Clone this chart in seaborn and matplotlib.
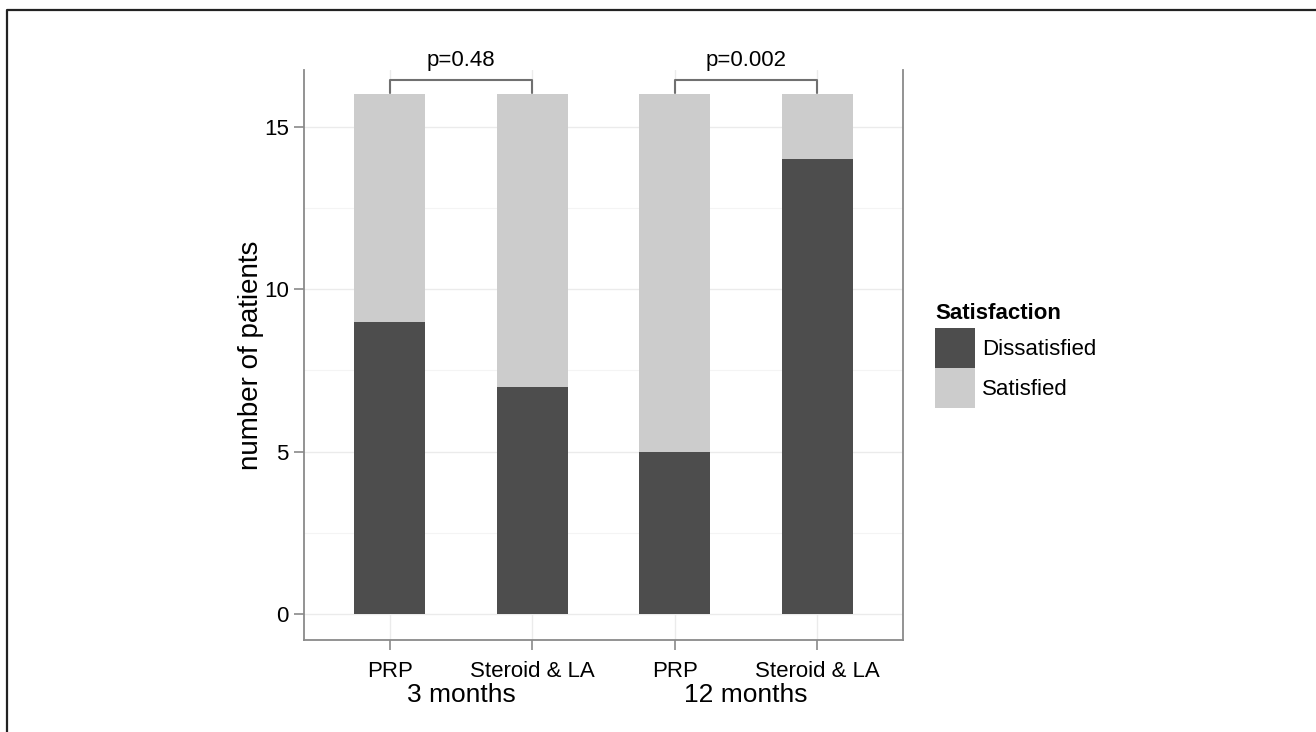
import matplotlib
matplotlib.use("Agg")
import matplotlib.pyplot as plt
import matplotlib.transforms as mtransforms
from matplotlib.patches import Patch
from matplotlib.lines import Line2D
import seaborn as sns
import pandas as pd

# ---- data ----
treatments = ["PRP", "Steroid & LA", "PRP", "Steroid & LA"]
timepoints = ["3 months", "3 months", "12 months", "12 months"]
dissatisfied = [9, 7, 5, 14]
satisfied = [7, 9, 11, 2]
p_values = ["p=0.48", "p=0.002"]
group_labels = ["3 months", "12 months"]
legend_labels = ["Dissatisfied", "Satisfied"]

sns.set_theme(style="white")
plt.rcParams["font.family"] = ["Liberation Sans", "DejaVu Sans"]
plt.rcParams["text.color"] = "black"
plt.rcParams["axes.labelcolor"] = "black"

dark = "#4d4d4d"
light = "#cccccc"
spine_c = "#8a8a8a"

keys = [f"{t}|{g}" for t, g in zip(treatments, timepoints)]
df = pd.DataFrame({
    "key": keys,
    "total": [d + s for d, s in zip(dissatisfied, satisfied)],
    "dissatisfied": dissatisfied,
})

fig = plt.figure(figsize=(13.16, 7.32), dpi=100)
ax = fig.add_axes([304 / 1316, 1 - 640 / 732, (903 - 304) / 1316, (640 - 70) / 732])

sns.barplot(data=df, x="key", y="total", color=light, width=0.5, ax=ax,
            saturation=1, order=keys, zorder=2, linewidth=0)
sns.barplot(data=df, x="key", y="dissatisfied", color=dark, width=0.5, ax=ax,
            saturation=1, order=keys, zorder=3, linewidth=0)

ax.set_xlim(-0.6, 3.6)
ax.set_ylim(-0.8, 16.75)
ax.set_yticks([0, 5, 10, 15])
ax.set_yticks([2.5, 7.5, 12.5], minor=True)
ax.set_xticks(range(4))
ax.set_xticklabels(treatments, fontsize=16, color="black")
ax.tick_params(axis="y", labelsize=16, colors="black")
ax.tick_params(axis="both", which="major", length=7, width=1.2, color=spine_c,
               direction="out", bottom=True, left=True)
ax.tick_params(axis="y", which="minor", length=0, left=False)
ax.tick_params(axis="x", pad=8)
ax.tick_params(axis="y", pad=4)
ax.set_xlabel("")
ax.set_ylabel("number of patients", fontsize=20, labelpad=0, color="black")

ax.grid(True, which="major", axis="both", color="#ebebeb", linewidth=1.0, zorder=0)
ax.grid(True, which="minor", axis="y", color="#f4f4f4", linewidth=0.8, zorder=0)
ax.set_axisbelow(True)

for side in ["left", "right", "bottom"]:
    ax.spines[side].set_visible(True)
    ax.spines[side].set_color(spine_c)
    ax.spines[side].set_linewidth(1.3)
ax.spines["top"].set_visible(False)

# group labels under ticks
trans = mtransforms.blended_transform_factory(ax.transData, ax.transAxes)
for i, g in enumerate(group_labels):
    ax.text(2 * i + 0.5, -0.097, g, transform=trans, ha="center", va="center",
            fontsize=19, color="black")

# significance brackets
for i, p in enumerate(p_values):
    x0, x1 = 2 * i, 2 * i + 1
    yb, yt = 16.03, 16.45
    ax.plot([x0, x0, x1, x1], [yb, yt, yt, yb], color="#707070", lw=1.5,
            clip_on=False, zorder=5)
    ax.text((x0 + x1) / 2, yt + 0.28, p, ha="center", va="bottom", fontsize=16,
            color="black", clip_on=False)

# legend
handles = [Patch(facecolor=dark, edgecolor="none"), Patch(facecolor=light, edgecolor="none")]
leg = fig.legend(handles, legend_labels, title="Satisfaction", loc="upper left",
                 bbox_to_anchor=(935 / 1316, 1 - 303 / 732), frameon=False,
                 fontsize=16, title_fontsize=16, handlelength=1.8, handleheight=2.4,
                 labelspacing=0.0, handletextpad=0.3, borderpad=0, borderaxespad=0)
leg.get_title().set_fontweight("bold")
leg.get_title().set_color("black")
for t in leg.get_texts():
    t.set_color("black")
leg._legend_box.align = "left"
leg._legend_box.sep = 3

# figure border (top and left)
fig.add_artist(Line2D([7 / 1316, 7 / 1316, 1.0], [0.0, 1 - 10 / 732, 1 - 10 / 732],
                      transform=fig.transFigure, color="#222222", lw=1.6))

fig.savefig("out.png", dpi=100)
